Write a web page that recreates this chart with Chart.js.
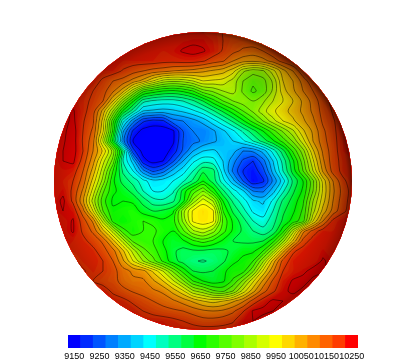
<!DOCTYPE html>
<html>
<head>
<meta charset="utf-8">
<title>Height field</title>
<script src="https://cdn.jsdelivr.net/npm/chart.js@4"></script>
<style>
  html, body { margin: 0; padding: 0; background: #fff; }
  canvas { display: block; }
</style>
</head>
<body>
<canvas id="map-chart" width="407" height="332"></canvas>
<canvas id="bar-chart" width="407" height="30"></canvas>
<script>
// Grid positions, distance from the centre of the globe
const gridX = [-160,-150,-140,-130,-120,-110,-100,-90,-80,-70,-60,-50,-40,-30,-20,-10,0,10,20,30,40,50,60,70,80,90,100,110,120,130,140,150,160];
const gridY = [-160,-150,-140,-130,-120,-110,-100,-90,-80,-70,-60,-50,-40,-30,-20,-10,0,10,20,30,40,50,60,70,80,90,100,110,120,130,140,150,160];

// Height, one row per gridY entry
const heights = [
[10225,10225,10225,10225,10225,10225,10225,10225,10225,10225,10225,10225,10225,10225,10225,10225,10225,10225,10225,10225,10225,10225,10225,10225,10225,10225,10225,10225,10225,10225,10225,10225,10225],
[10225,10225,10225,10225,10225,10225,10225,10225,10225,10225,10225,10225,10225,10225,10225,10225,10225,10220,10200,10185,10190,10200,10225,10225,10225,10225,10225,10225,10225,10225,10225,10225,10225],
[10225,10225,10225,10225,10225,10225,10225,10225,10225,10225,10225,10225,10225,10225,10235,10240,10240,10225,10200,10180,10175,10180,10190,10205,10225,10225,10225,10225,10225,10225,10225,10225,10225],
[10225,10225,10225,10225,10225,10225,10225,10225,10225,10225,10225,10225,10225,10235,10255,10265,10255,10230,10195,10165,10140,10130,10150,10190,10215,10225,10225,10225,10225,10225,10225,10225,10225],
[10225,10225,10225,10225,10225,10225,10225,10225,10225,10225,10225,10225,10215,10215,10220,10220,10205,10175,10155,10100,10070,10060,10080,10120,10170,10205,10225,10225,10225,10225,10225,10225,10225],
[10225,10225,10225,10225,10225,10225,10225,10225,10195,10170,10150,10130,10120,10100,10090,10080,10060,10040,10020,9970,9860,9820,9840,9930,10030,10100,10190,10225,10225,10225,10225,10225,10225],
[10225,10225,10225,10225,10225,10225,10190,10150,10130,10080,10030,9950,9880,9860,9870,9900,9950,9940,9930,9880,9800,9760,9780,9860,10000,10050,10120,10190,10225,10225,10225,10225,10225],
[10225,10225,10225,10225,10225,10200,10170,10110,10020,9870,9720,9680,9650,9640,9660,9700,9780,9810,9850,9870,9790,9740,9770,9860,9980,10040,10100,10150,10195,10225,10225,10225,10225],
[10225,10225,10225,10235,10215,10190,10150,10000,9820,9660,9520,9490,9480,9480,9500,9540,9600,9680,9750,9800,9830,9800,9840,9900,9950,10000,10060,10120,10180,10215,10225,10225,10225],
[10225,10225,10235,10255,10215,10175,10030,9850,9640,9520,9400,9390,9380,9390,9410,9440,9480,9540,9610,9680,9750,9810,9880,9940,9980,10020,10060,10110,10170,10205,10225,10225,10225],
[10225,10225,10235,10260,10205,10160,9980,9720,9470,9320,9210,9180,9190,9280,9300,9330,9370,9430,9490,9560,9640,9720,9800,9880,9950,9990,10040,10090,10160,10195,10225,10225,10225],
[10225,10225,10240,10270,10200,10140,9960,9690,9360,9190,9130,9120,9120,9140,9250,9300,9300,9340,9390,9440,9510,9580,9650,9730,9810,9890,9990,10060,10140,10190,10225,10225,10225],
[10225,10225,10245,10270,10195,10120,9900,9640,9320,9150,9120,9110,9110,9140,9250,9280,9310,9340,9370,9400,9440,9500,9570,9640,9720,9810,9930,10050,10130,10185,10225,10225,10225],
[10225,10225,10250,10270,10200,10100,9990,9830,9560,9220,9130,9110,9120,9170,9260,9350,9400,9410,9380,9370,9300,9310,9370,9470,9580,9710,9830,9990,10110,10180,10225,10225,10225],
[10225,10225,10250,10260,10180,10070,9920,9780,9500,9380,9170,9130,9150,9240,9350,9440,9480,9470,9400,9320,9240,9200,9280,9400,9520,9640,9780,9940,10090,10180,10215,10225,10225],
[10225,10225,10235,10225,10150,10030,9870,9700,9540,9450,9320,9240,9280,9370,9430,9500,9590,9570,9420,9290,9200,9170,9230,9370,9500,9620,9750,9900,10060,10170,10215,10225,10225],
[10225,10225,10225,10200,10130,9980,9830,9660,9580,9530,9470,9420,9430,9450,9490,9560,9650,9580,9470,9370,9250,9160,9190,9310,9430,9560,9650,9790,9970,10100,10190,10225,10225],
[10225,10225,10240,10190,10090,9930,9760,9660,9630,9580,9500,9450,9450,9490,9620,9720,9800,9680,9560,9470,9410,9300,9290,9380,9490,9590,9660,9800,9960,10090,10170,10225,10225],
[10225,10225,10260,10190,10060,9880,9720,9640,9650,9640,9580,9520,9510,9540,9630,9820,9930,9850,9650,9540,9470,9410,9390,9460,9560,9620,9690,9850,9980,10100,10180,10225,10225],
[10225,10225,10250,10235,10120,9950,9750,9660,9670,9680,9630,9600,9610,9640,9830,9960,9990,9960,9700,9590,9520,9440,9420,9500,9590,9640,9710,9880,10020,10120,10190,10225,10225],
[10225,10225,10225,10255,10175,10090,9880,9680,9650,9680,9700,9690,9660,9680,9810,9960,9985,9960,9740,9640,9570,9500,9470,9530,9610,9670,9730,9950,10100,10215,10235,10225,10225],
[10225,10225,10225,10255,10190,10140,10020,9880,9720,9670,9700,9710,9680,9650,9740,9840,9880,9820,9720,9640,9590,9550,9520,9560,9680,9880,10080,10170,10225,10225,10225,10225,10225],
[10225,10225,10225,10225,10215,10180,10140,10020,9880,9740,9710,9700,9650,9620,9640,9690,9720,9690,9640,9600,9590,9590,9600,9680,9830,10010,10170,10225,10225,10225,10225,10225,10225],
[10225,10225,10225,10215,10225,10215,10170,10120,10010,9880,9770,9720,9670,9610,9580,9590,9590,9580,9590,9610,9640,9640,9700,9840,10030,10190,10225,10225,10240,10225,10225,10225,10225],
[10190,10190,10190,10190,10215,10225,10200,10150,10060,9950,9850,9770,9690,9620,9580,9555,9545,9560,9590,9640,9660,9700,9840,10020,10170,10225,10225,10225,10255,10235,10225,10225,10225],
[10195,10195,10195,10195,10195,10215,10200,10170,10120,10090,10070,9990,9900,9790,9680,9600,9590,9600,9640,9670,9680,9790,9960,10090,10200,10225,10240,10265,10255,10235,10225,10225,10225],
[10215,10215,10215,10215,10215,10200,10180,10170,10130,10110,10110,10060,10000,9910,9810,9700,9650,9620,9640,9710,9810,9940,10060,10160,10225,10255,10265,10240,10225,10225,10225,10225,10225],
[10225,10225,10225,10225,10225,10225,10225,10190,10165,10145,10130,10110,10090,10030,9960,9860,9820,9760,9740,9800,9920,10030,10130,10190,10240,10260,10240,10225,10225,10225,10225,10225,10225],
[10225,10225,10225,10225,10225,10225,10225,10225,10215,10190,10170,10150,10130,10110,10080,10040,10000,9980,10000,10040,10090,10170,10225,10260,10250,10225,10225,10225,10225,10225,10225,10225,10225],
[10225,10225,10225,10225,10225,10225,10225,10225,10225,10225,10200,10185,10170,10160,10150,10130,10110,10100,10110,10140,10195,10255,10265,10250,10225,10225,10225,10225,10225,10225,10225,10225,10225],
[10225,10225,10225,10225,10225,10225,10225,10225,10225,10225,10225,10225,10225,10215,10200,10185,10170,10170,10180,10195,10240,10250,10225,10225,10225,10225,10225,10225,10225,10225,10225,10225,10225],
[10225,10225,10225,10225,10225,10225,10225,10225,10225,10225,10225,10225,10225,10225,10225,10225,10225,10225,10225,10225,10225,10225,10225,10225,10225,10225,10225,10225,10225,10225,10225,10225,10225],
[10225,10225,10225,10225,10225,10225,10225,10225,10225,10225,10225,10225,10225,10225,10225,10225,10225,10225,10225,10225,10225,10225,10225,10225,10225,10225,10225,10225,10225,10225,10225,10225,10225]
];

// Colour bar blocks and the labels printed under them
const barLevels = [9150,9200,9250,9300,9350,9400,9450,9500,9550,9600,9650,9700,9750,9800,9850,9900,9950,10000,10050,10100,10150,10200,10250];
const tickLabels = [9150,9250,9350,9450,9550,9650,9750,9850,9950,10050,10150,10250];

// Rainbow colour map
const colorValues = [9150,9450,9650,9950,10200,10250];
const colorRgb = [[0,0,255],[0,255,255],[0,255,0],[255,255,0],[255,60,0],[255,0,0]];

const discRadius = 149;
const contourStep = 50;
const fillStep = 12.5;
const outerValue = 10400;

function colorAt(value) {
    let k = 0;
    while (k < colorValues.length - 2 && value > colorValues[k + 1]) k++;
    let t = (value - colorValues[k]) / (colorValues[k + 1] - colorValues[k]);
    t = Math.max(0, Math.min(1, t));
    const c = colorRgb[k].map((v, n) => Math.round(v + (colorRgb[k + 1][n] - v) * t));
    return 'rgb(' + c.join(',') + ')';
}

// Add a ring of high values so that every contour closes
const paddedX = [gridX[0] - 10, ...gridX, gridX[gridX.length - 1] + 10];
const paddedY = [gridY[0] - 10, ...gridY, gridY[gridY.length - 1] + 10];
const paddedZ = [paddedX.map(() => outerValue)]
    .concat(heights.map(row => [outerValue, ...row, outerValue]))
    .concat([paddedX.map(() => outerValue)]);

function pointInLoop(px, py, loop) {
    let inside = false;
    for (let a = 0, b = loop.length - 1; a < loop.length; b = a++) {
        const crosses = (loop[a].y > py) !== (loop[b].y > py);
        if (crosses && px < (loop[b].x - loop[a].x) * (py - loop[a].y) / (loop[b].y - loop[a].y) + loop[a].x) inside = !inside;
    }
    return inside;
}

// Marching squares for one level, returns closed loops
function contourLoops(level) {
    const points = {};
    const links = {};
    const above = (i, j) => paddedZ[j][i] >= level;

    function crossing(i1, j1, i2, j2) {
        const key = i1 + '_' + j1 + '_' + i2 + '_' + j2;
        if (!points[key]) {
            const t = (level - paddedZ[j1][i1]) / (paddedZ[j2][i2] - paddedZ[j1][i1]);
            points[key] = {
                x: paddedX[i1] + (paddedX[i2] - paddedX[i1]) * t,
                y: paddedY[j1] + (paddedY[j2] - paddedY[j1]) * t,
                lowI: above(i1, j1) ? i2 : i1,
                lowJ: above(i1, j1) ? j2 : j1
            };
            links[key] = [];
        }
        return key;
    }
    function link(a, b) {
        links[a].push(b);
        links[b].push(a);
    }

    for (let j = 0; j < paddedY.length - 1; j++) {
        for (let i = 0; i < paddedX.length - 1; i++) {
            const a = above(i, j), b = above(i + 1, j), c = above(i + 1, j + 1), d = above(i, j + 1);
            const found = [];
            if (a !== b) found.push(crossing(i, j, i + 1, j));
            if (b !== c) found.push(crossing(i + 1, j, i + 1, j + 1));
            if (d !== c) found.push(crossing(i, j + 1, i + 1, j + 1));
            if (a !== d) found.push(crossing(i, j, i, j + 1));
            if (found.length === 2) {
                link(found[0], found[1]);
            } else if (found.length === 4) {
                // Saddle, the cell average decides how the crossings pair up
                const mean = (paddedZ[j][i] + paddedZ[j][i + 1] + paddedZ[j + 1][i + 1] + paddedZ[j + 1][i]) / 4;
                if ((mean >= level) === a) {
                    link(found[0], found[1]);
                    link(found[2], found[3]);
                } else {
                    link(found[0], found[3]);
                    link(found[1], found[2]);
                }
            }
        }
    }

    const used = {};
    const loops = [];
    Object.keys(links).forEach(start => {
        if (used[start]) return;
        const loop = [];
        let cur = start;
        while (cur && !used[cur]) {
            used[cur] = true;
            loop.push(points[cur]);
            cur = links[cur].find(n => !used[n]);
        }
        if (loop.length < 3) return;
        let area = 0;
        for (let a = 0, b = loop.length - 1; a < loop.length; b = a++) {
            area += loop[b].x * loop[a].y - loop[a].x * loop[b].y;
        }
        const low = points[start];
        const lowInside = pointInLoop(paddedX[low.lowI], paddedY[low.lowJ], loop);
        loops.push({ level: level, loop: loop, area: Math.abs(area / 2), lowInside: lowInside });
    });
    return loops;
}

// Build the bands. Chart.js paints the last dataset first, so the smallest loop goes first
let allLoops = [];
for (let level = 9100; level <= 10300; level += fillStep) {
    allLoops = allLoops.concat(contourLoops(level));
}
allLoops.sort((a, b) => a.area - b.area);

const mapDatasets = allLoops.map(item => {
    const isContour = item.level % contourStep === 0 && item.level >= 9150 && item.level <= 10250;
    const inner = item.lowInside ? item.level - fillStep / 2 : item.level + fillStep / 2;
    return {
        data: item.loop.concat([item.loop[0]]).map(p => ({ x: p.x, y: p.y })),
        showLine: true,
        fill: 'shape',
        backgroundColor: colorAt(inner),
        borderColor: isContour ? 'rgba(0,0,0,0.65)' : 'transparent',
        borderWidth: isContour ? 0.7 : 0,
        tension: 0.3,
        pointRadius: 0
    };
});

// Clip to the disc and darken it towards the edge
const globePlugin = {
    id: 'globe',
    beforeDatasetsDraw(chart) {
        const ctx = chart.ctx;
        const cx = chart.scales.x.getPixelForValue(0);
        const cy = chart.scales.y.getPixelForValue(0);
        ctx.save();
        ctx.beginPath();
        ctx.arc(cx, cy, discRadius, 0, Math.PI * 2);
        ctx.clip();
    },
    afterDatasetsDraw(chart) {
        const ctx = chart.ctx;
        const cx = chart.scales.x.getPixelForValue(0);
        const cy = chart.scales.y.getPixelForValue(0);
        const shade = ctx.createRadialGradient(cx - 6, cy + 5, 0, cx - 6, cy + 5, discRadius + 8);
        shade.addColorStop(0, 'rgba(0,0,0,0)');
        shade.addColorStop(0.45, 'rgba(0,0,0,0)');
        shade.addColorStop(0.65, 'rgba(0,0,0,0.08)');
        shade.addColorStop(0.8, 'rgba(0,0,0,0.18)');
        shade.addColorStop(0.9, 'rgba(0,0,0,0.27)');
        shade.addColorStop(0.96, 'rgba(0,0,0,0.4)');
        shade.addColorStop(1, 'rgba(0,0,0,0.68)');
        ctx.fillStyle = shade;
        ctx.fillRect(cx - discRadius, cy - discRadius, discRadius * 2, discRadius * 2);
        ctx.restore();
    }
};

new Chart(document.getElementById('map-chart'), {
    type: 'scatter',
    data: { datasets: mapDatasets },
    options: {
        responsive: false,
        animation: false,
        events: [],
        layout: { padding: 0 },
        plugins: { legend: { display: false }, tooltip: { enabled: false } },
        scales: {
            x: { type: 'linear', display: false, min: -203, max: 204 },
            y: { type: 'linear', display: false, reverse: true, min: -181, max: 151 }
        }
    },
    plugins: [globePlugin]
});

new Chart(document.getElementById('bar-chart'), {
    type: 'bar',
    data: {
        labels: barLevels,
        datasets: [{
            data: barLevels.map(() => 1),
            backgroundColor: barLevels.map(colorAt),
            categoryPercentage: 1,
            barPercentage: 1
        }]
    },
    options: {
        responsive: false,
        animation: false,
        events: [],
        layout: { padding: { left: 68, right: 49, top: 3, bottom: 1 } },
        plugins: { legend: { display: false }, tooltip: { enabled: false } },
        scales: {
            x: {
                grid: { display: false, drawTicks: false },
                border: { display: false },
                ticks: {
                    autoSkip: false,
                    maxRotation: 0,
                    padding: 3,
                    color: '#000',
                    font: { family: 'Liberation Sans', size: 9 },
                    callback(value) {
                        const level = this.getLabelForValue(value);
                        return tickLabels.includes(level) ? String(level) : '';
                    }
                }
            },
            y: { display: false, min: 0, max: 1 }
        }
    }
});
</script>
</body>
</html>
